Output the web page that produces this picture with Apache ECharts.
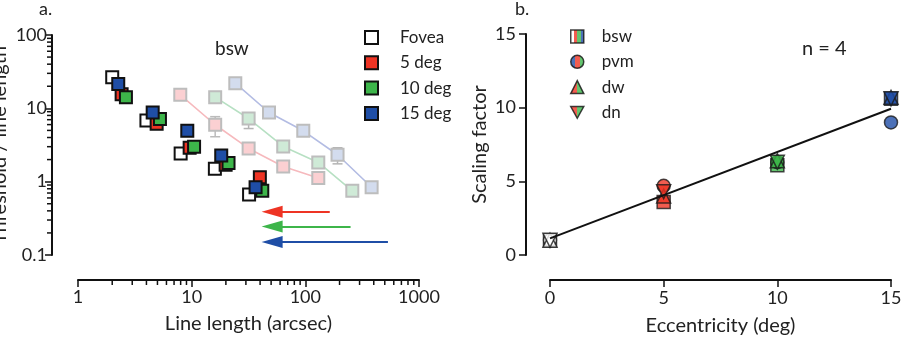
<!DOCTYPE html>
<html>
<head>
<meta charset="utf-8">
<script src="https://cdn.jsdelivr.net/npm/echarts@6/dist/echarts.min.js"></script>
<style>
html, body { margin: 0; padding: 0; background: #fff; }
#chart { width: 903px; height: 340px; }
</style>
</head>
<body>
<div id="chart"></div>
<script>
// panel a: threshold / line length vs line length (bsw)
const fovX = [2, 4, 8, 16, 32];
const fovY = [26.6, 6.8, 2.43, 1.5, 0.67];
const d5X = [2.42, 4.92, 9.6, 19.9, 39.8];
const d5Y = [15.6, 6.15, 2.9, 1.7, 1.15];
const d10X = [2.64, 5.26, 10.5, 21.1, 41.8];
const d10Y = [14.2, 7.13, 3.0, 1.8, 0.75];
const d15X = [2.26, 4.54, 9.15, 18.2, 36.5];
const d15Y = [21.5, 8.77, 4.94, 2.28, 0.84];

// scaled (shifted) curves
const s5X = [7.94, 16.1, 31.7, 63.9, 130];
const s5Y = [15.3, 5.97, 2.84, 1.61, 1.12];
const s10X = [16.1, 31.7, 63.9, 130, 259];
const s10Y = [14.2, 7.26, 3.02, 1.83, 0.75];
const s15X = [24.2, 47.9, 95.9, 192, 383];
const s15Y = [22, 8.77, 4.94, 2.33, 0.84];

// error bars on shifted curves: [x, low, high]
const errBars = [[16.1, 4.1, 7.7], [130, 0.98, 1.25], [31.7, 5.3, 8.1], [192, 1.75, 2.9]];
const errColor = ['#bbbbbb', '#bbbbbb', '#b4b4b4', '#b4b4b4'];

// arrows: y level, tail x, head x
const arrowY = [0.39, 0.245, 0.15];
const arrowFrom = [164, 250, 533];
const arrowTo = [51, 51, 51];

const logMinorX = [2, 3, 4, 5, 6, 7, 8, 9, 20, 30, 40, 50, 60, 70, 80, 90, 200, 300, 400, 500, 600, 700, 800, 900];
const logMinorY = [0.2, 0.3, 0.4, 0.5, 0.6, 0.7, 0.8, 0.9, 2, 3, 4, 5, 6, 7, 8, 9, 20, 30, 40, 50, 60, 70, 80, 90];

// panel b: scaling factor vs eccentricity
const eccX = [0, 5, 10, 15];
const bswS = [1.0, 3.6, 6.1, 10.6];
const pvmS = [1.0, 4.7, 6.3, 9.0];
const dwS = [1.0, 4.0, 6.4, 10.7];
const dnS = [1.0, 4.3, 6.3, 10.6];
const fitLine = [[0, 1.13], [15, 9.93]];

const RED = '#ee3424', GREEN = '#3db54a', BLUE = '#1f4ea6';
const ptColor = ['#ffffff', RED, GREEN, BLUE];
const FONT = 'Lato, "Open Sans", sans-serif';
const TXT = '#222';

const zip = (xs, ys) => xs.map((x, i) => [x, ys[i]]);

const chart = echarts.init(document.getElementById('chart'));

function mainSeries(name, xs, ys, color) {
  return {
    name: name, type: 'scatter', xAxisIndex: 0, yAxisIndex: 0,
    symbol: 'rect', symbolSize: 12, z: 5,
    itemStyle: { color: color, borderColor: '#111', borderWidth: 2, opacity: 1 },
    data: zip(xs, ys)
  };
}

function fadedSeries(name, xs, ys, fill, line) {
  return {
    name: name, type: 'line', xAxisIndex: 0, yAxisIndex: 0,
    symbol: 'rect', symbolSize: 12, z: 3,
    lineStyle: { color: line, width: 1.6 },
    itemStyle: { color: fill, borderColor: '#bdbdbd', borderWidth: 2 },
    data: zip(xs, ys)
  };
}

// minor ticks on the log axes (the axes are offset from the grid)
function minorTicks(vals, dir) {
  return {
    type: 'custom', xAxisIndex: 0, yAxisIndex: 0, silent: true, z: 2, clip: false,
    data: vals.map(v => dir === 'x' ? [v, 0.1] : [1, v]),
    renderItem: function (params, api) {
      const p = api.coord([api.value(0), api.value(1)]);
      let shape;
      if (dir === 'x') shape = { x1: p[0], y1: p[1] + 25, x2: p[0], y2: p[1] + 30 };
      else shape = { x1: p[0] - 26, y1: p[1], x2: p[0] - 31, y2: p[1] };
      return { type: 'line', shape: shape, style: { stroke: '#111', lineWidth: 1.5 } };
    }
  };
}

const errSeries = {
  type: 'custom', xAxisIndex: 0, yAxisIndex: 0, silent: true, z: 2,
  data: errBars,
  renderItem: function (params, api) {
    const lo = api.coord([api.value(0), api.value(1)]);
    const hi = api.coord([api.value(0), api.value(2)]);
    const c = errColor[params.dataIndex];
    const st = { stroke: c, lineWidth: 1.5 };
    return {
      type: 'group', children: [
        { type: 'line', shape: { x1: lo[0], y1: lo[1], x2: hi[0], y2: hi[1] }, style: st },
        { type: 'line', shape: { x1: lo[0] - 5, y1: lo[1], x2: lo[0] + 5, y2: lo[1] }, style: st },
        { type: 'line', shape: { x1: hi[0] - 5, y1: hi[1], x2: hi[0] + 5, y2: hi[1] }, style: st }
      ]
    };
  }
};

const arrowColors = [RED, GREEN, BLUE];
const arrowSeries = {
  type: 'scatter', xAxisIndex: 0, yAxisIndex: 0, data: [], silent: true,
  markLine: {
    silent: true, symbol: ['none', 'triangle'], symbolSize: [12, 21],
    label: { show: false }, animation: false,
    data: arrowY.map((y, i) => [
      { coord: [arrowFrom[i], y], lineStyle: { color: arrowColors[i], width: 1.8, type: 'solid' }, itemStyle: { color: arrowColors[i] } },
      { coord: [arrowTo[i], y] }
    ])
  }
};

function bSeries(name, ys, symbol, size, z) {
  return {
    name: name, type: 'scatter', xAxisIndex: 1, yAxisIndex: 1,
    symbol: symbol, symbolSize: size, z: z,
    itemStyle: { borderColor: '#1a1a1a', borderWidth: 1.5 },
    data: ys.map((y, i) => ({ value: [eccX[i], y], itemStyle: { color: ptColor[i] } }))
  };
}

function stripes(cols) {
  const stops = [];
  cols.forEach((c, i) => {
    stops.push({ offset: i / cols.length, color: c });
    stops.push({ offset: (i + 1) / cols.length, color: c });
  });
  return new echarts.graphic.LinearGradient(0, 0, 1, 0, stops);
}

const DOWN_TRI = 'path://M0,0L20,0L10,18Z';

const axisCommon = {
  axisLine: { show: true, onZero: false, lineStyle: { color: '#111', width: 2 } },
  axisTick: { show: true, inside: false, length: 7, lineStyle: { color: '#111', width: 1.5 } },
  splitLine: { show: false },
  axisLabel: { color: TXT, fontSize: 18, fontFamily: FONT },
  nameTextStyle: { color: TXT, fontSize: 20, fontFamily: FONT }
};

const plain = v => String(v);

const option = {
  animation: false,
  textStyle: { fontFamily: FONT },
  grid: [
    { left: 78, right: 484, top: 35, bottom: 85, outerBoundsMode: 'none', containLabel: false },
    { left: 550, right: 12, top: 34, bottom: 85, outerBoundsMode: 'none', containLabel: false }
  ],
  xAxis: [
    Object.assign({}, axisCommon, {
      gridIndex: 0, type: 'log', logBase: 10, min: 1, max: 1000, offset: 25,
      name: 'Line length (arcsec)', nameLocation: 'middle', nameGap: 34,
      axisLabel: Object.assign({}, axisCommon.axisLabel, { margin: 8, formatter: plain })
    }),
    Object.assign({}, axisCommon, {
      gridIndex: 1, type: 'value', min: 0, max: 15, interval: 5, offset: 25,
      name: 'Eccentricity (deg)', nameLocation: 'middle', nameGap: 36,
      axisLabel: Object.assign({}, axisCommon.axisLabel, { margin: 9 })
    })
  ],
  yAxis: [
    Object.assign({}, axisCommon, {
      gridIndex: 0, type: 'log', logBase: 10, min: 0.1, max: 100, offset: 26,
      name: 'Threshold / line length', nameLocation: 'middle', nameGap: 42,
      axisLabel: Object.assign({}, axisCommon.axisLabel, { margin: 5, formatter: plain })
    }),
    Object.assign({}, axisCommon, {
      gridIndex: 1, type: 'value', min: 0, max: 15, interval: 5, offset: 24,
      name: 'Scaling factor', nameLocation: 'middle', nameGap: 36,
      axisLabel: Object.assign({}, axisCommon.axisLabel, { margin: 10 })
    })
  ],
  legend: [
    {
      orient: 'vertical', left: 359, top: 24, itemWidth: 13, itemHeight: 13, itemGap: 8.3,
      selectedMode: false,
      textStyle: { color: TXT, fontSize: 17, fontFamily: FONT, lineHeight: 16, padding: [0, 0, 0, 17] },
      data: ['Fovea', '5 deg', '10 deg', '15 deg']
    },
    {
      orient: 'vertical', left: 565, top: 23, itemWidth: 13, itemHeight: 13, itemGap: 8.3,
      selectedMode: false,
      textStyle: { color: TXT, fontSize: 17, fontFamily: FONT, lineHeight: 16, padding: [0, 0, 0, 13] },
      data: [
        { name: 'bsw', icon: 'rect', itemStyle: { color: stripes(['#ffffff', RED, GREEN, BLUE]), borderColor: '#111', borderWidth: 1.5 } },
        { name: 'pvm', icon: 'circle', itemStyle: { color: stripes([BLUE, RED, GREEN]), borderColor: '#111', borderWidth: 1.5 } },
        { name: 'dw', icon: 'triangle', itemStyle: { color: stripes([RED, GREEN]), borderColor: '#111', borderWidth: 1.5 } },
        { name: 'dn', icon: DOWN_TRI, itemStyle: { color: stripes([RED, GREEN]), borderColor: '#111', borderWidth: 1.5 } }
      ]
    }
  ],
  graphic: [
    { type: 'text', left: 39, top: 0, style: { text: 'a.', fontSize: 18, fontFamily: FONT, fill: TXT } },
    { type: 'text', left: 515, top: 0, style: { text: 'b.', fontSize: 18, fontFamily: FONT, fill: TXT } },
    { type: 'text', left: 215, top: 39, style: { text: 'bsw', fontSize: 19, fontFamily: FONT, fill: TXT } },
    { type: 'text', left: 802, top: 39, style: { text: 'n = 4', fontSize: 20, fontFamily: FONT, fill: TXT } }
  ],
  series: [
    minorTicks(logMinorX, 'x'),
    minorTicks(logMinorY, 'y'),
    errSeries,
    fadedSeries('5 deg scaled', s5X, s5Y, '#fbd0d2', '#f6b9bd'),
    fadedSeries('10 deg scaled', s10X, s10Y, '#cfead7', '#b7e0c3'),
    fadedSeries('15 deg scaled', s15X, s15Y, '#d3dcee', '#b3bce3'),
    mainSeries('Fovea', fovX, fovY, '#ffffff'),
    mainSeries('5 deg', d5X, d5Y, RED),
    mainSeries('10 deg', d10X, d10Y, GREEN),
    mainSeries('15 deg', d15X, d15Y, BLUE),
    arrowSeries,
    bSeries('bsw', bswS, 'rect', 13, 3),
    bSeries('pvm', pvmS, 'circle', 13, 4),
    bSeries('dw', dwS, 'triangle', 14, 5),
    bSeries('dn', dnS, DOWN_TRI, 14, 6),
    {
      type: 'line', xAxisIndex: 1, yAxisIndex: 1, z: 8, symbol: 'none',
      lineStyle: { color: '#111', width: 2 }, data: fitLine
    }
  ]
};

chart.setOption(option);
</script>
</body>
</html>
